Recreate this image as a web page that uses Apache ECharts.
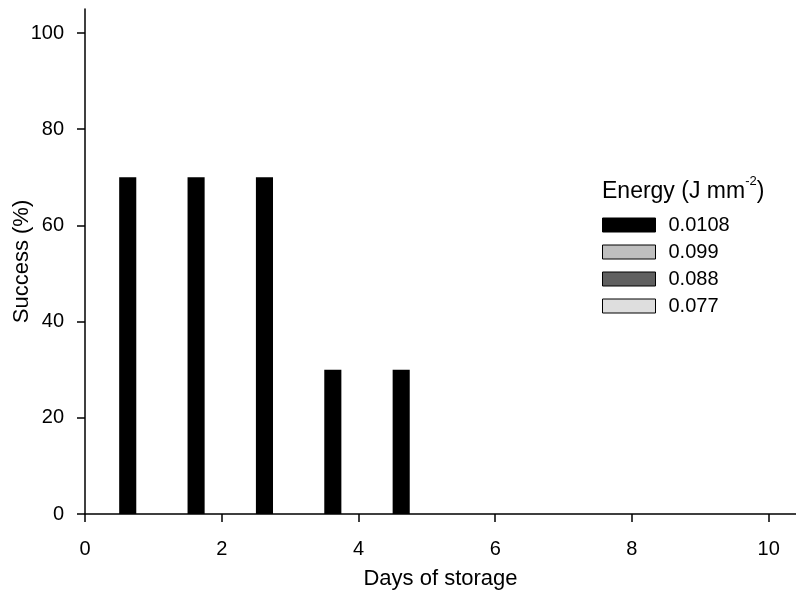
<!DOCTYPE html>
<html>
<head>
<meta charset="utf-8">
<script src="https://cdn.jsdelivr.net/npm/echarts@6/dist/echarts.min.js"></script>
<style>html,body{margin:0;padding:0;background:#fff}#c{width:796px;height:593px}</style>
</head>
<body>
<div id="c"></div>
<script>
var days = [1, 2, 3, 4, 5, 6, 7, 8, 9, 10];
var energyLabels = ['0.0108', '0.099', '0.088', '0.077'];
var e0108 = [70, 70, 70, 30, 30, 0, 0, 0, 0, 0];
var e099 = [0, 0, 0, 0, 0, 0, 0, 0, 0, 0];
var e088 = [0, 0, 0, 0, 0, 0, 0, 0, 0, 0];
var e077 = [0, 0, 0, 0, 0, 0, 0, 0, 0, 0];
var xTicks = [0, 2, 4, 6, 8, 10];
var yTicks = [0, 20, 40, 60, 80, 100];
var colors = ['#000000', '#bfbfbf', '#606060', '#dedede'];
var seriesValues = [e0108, e099, e088, e077];

var FONT = '"Liberation Sans", Arial, sans-serif';

function makeRender(idx) {
  return function (params, api) {
    var d = api.value(0), v = api.value(1);
    if (!v) return null;
    var p0 = api.coord([d - 0.5 + idx * 0.25, v]);
    var p1 = api.coord([d - 0.25 + idx * 0.25, 0]);
    return {
      type: 'rect',
      shape: { x: p0[0], y: p0[1], width: p1[0] - p0[0], height: p1[1] - p0[1] },
      style: { fill: api.visual('color') }
    };
  };
}

var series = energyLabels.map(function (name, i) {
  return {
    type: 'custom',
    name: name,
    renderItem: makeRender(i),
    itemStyle: { color: colors[i], borderColor: '#000', borderWidth: 1 },
    encode: { x: 0, y: 1 },
    data: days.map(function (d, j) { return [d, seriesValues[i][j]]; })
  };
});

var chart = echarts.init(document.getElementById('c'), null, { renderer: 'canvas' });
chart.setOption({
  animation: false,
  backgroundColor: '#fff',
  textStyle: { fontFamily: FONT },
  title: {
    left: 602, top: 175, padding: 0,
    text: '{a|Energy (J mm}{s|-2}{a|)}',
    textStyle: {
      fontWeight: 'normal',
      rich: {
        a: { fontSize: 23, fontFamily: FONT, color: '#000', fontWeight: 'normal', lineHeight: 28, verticalAlign: 'bottom' },
        s: { fontSize: 13, fontFamily: FONT, color: '#000', fontWeight: 'normal', lineHeight: 28, verticalAlign: 'top' }
      }
    }
  },
  legend: {
    orient: 'vertical',
    left: 602, top: 215, padding: 0,
    itemWidth: 53, itemHeight: 14, itemGap: 7,
    icon: 'rect',
    textStyle: { fontSize: 20, fontFamily: FONT, color: '#000', padding: [0, 0, 0, 8] },
    data: energyLabels.map(function (n, i) {
      return { name: n, itemStyle: { color: colors[i], borderColor: '#000', borderWidth: 1 } };
    })
  },
  grid: { left: 85, right: 0, top: 9, bottom: 79, containLabel: false, outerBoundsMode: 'none' },
  xAxis: {
    type: 'value', min: 0, max: 10.4,
    name: 'Days of storage', nameLocation: 'middle', nameGap: 54, nameMoveOverlap: false,
    nameTextStyle: { fontSize: 22, fontFamily: FONT, color: '#000' },
    axisLine: { show: true, onZero: false, lineStyle: { color: '#000', width: 1.5 } },
    axisTick: { show: true, inside: false, length: 8, customValues: xTicks, lineStyle: { color: '#000', width: 1.5 } },
    axisLabel: { customValues: xTicks, fontSize: 20, color: '#000', margin: 25 },
    splitLine: { show: false }
  },
  yAxis: {
    type: 'value', min: 0, max: 105,
    name: 'Success (%)', nameLocation: 'middle', nameGap: 52, nameMoveOverlap: false,
    nameTextStyle: { fontSize: 22, fontFamily: FONT, color: '#000' },
    axisLine: { show: true, lineStyle: { color: '#000', width: 1.5 } },
    axisTick: { show: true, inside: false, length: 8, customValues: yTicks, lineStyle: { color: '#000', width: 1.5 } },
    axisLabel: { customValues: yTicks, fontSize: 20, color: '#000', margin: 21 },
    splitLine: { show: false }
  },
  series: series
});
</script>
</body>
</html>
